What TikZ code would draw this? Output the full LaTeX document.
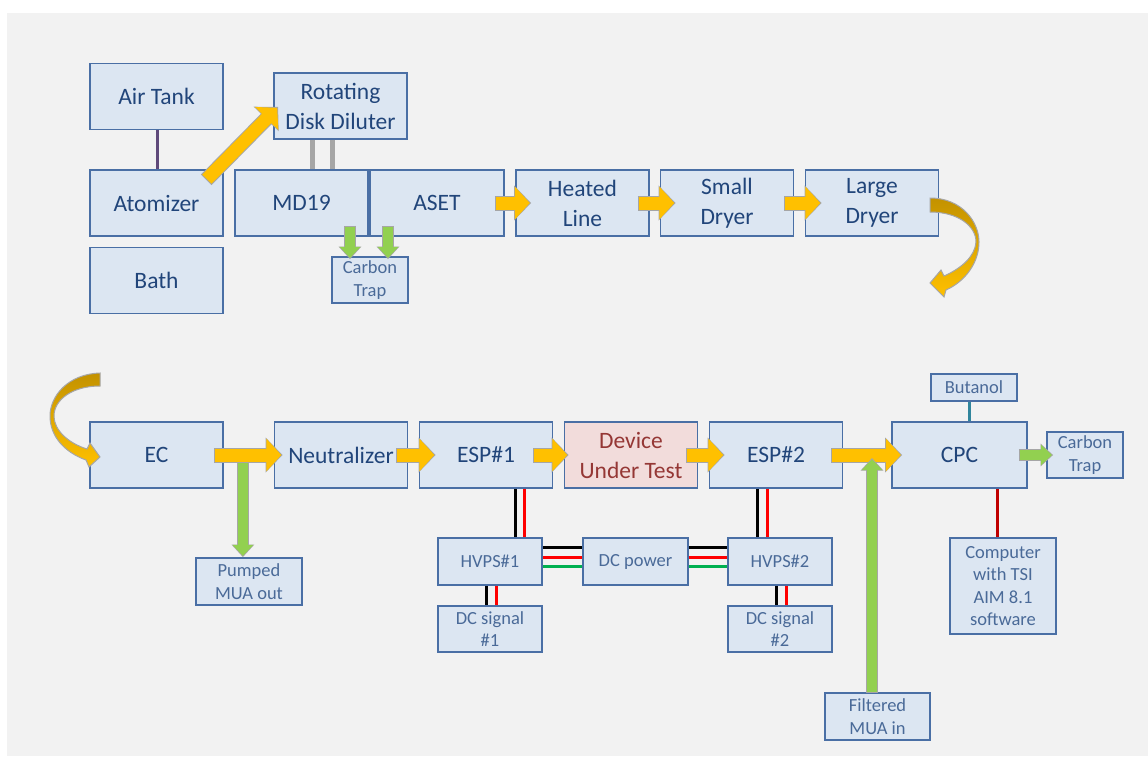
\documentclass[tikz,border=0pt]{standalone}
\usepackage{fontspec}
\setmainfont{Carlito}
\usetikzlibrary{arrows.meta,calc}
\definecolor{bggray}{HTML}{F2F2F2}
\definecolor{boxfill}{HTML}{DCE6F2}
\definecolor{boxline}{HTML}{4A6FA5}
\definecolor{maintext}{HTML}{21457A}
\definecolor{smalltext}{HTML}{4A6A98}
\definecolor{dutfill}{HTML}{F2DCDB}
\definecolor{duttext}{HTML}{953735}
\definecolor{flowyellow}{HTML}{FFC000}
\definecolor{flowgold}{HTML}{C39200}
\definecolor{flowgreen}{HTML}{92D050}
\definecolor{arrowgray}{HTML}{A6A6A6}
\definecolor{tankline}{HTML}{5F497A}
\definecolor{butline}{HTML}{31859C}
\definecolor{pcline}{HTML}{C00000}
\definecolor{wirered}{HTML}{FF0000}
\definecolor{wiregreen}{HTML}{00B050}

\tikzset{
  unit/.style={draw=boxline, line width=1.8pt, fill=boxfill, text=maintext, align=center,
    inner sep=0pt, minimum width=133pt, minimum height=66pt,
    font=\fontsize{23.5}{30}\selectfont},
  part/.style={unit, text=smalltext, minimum width=104pt, minimum height=47pt,
    font=\fontsize{18.5}{22.5}\selectfont},
  wire/.style={line width=3pt},
  flowedge/.style={draw=arrowgray, line width=15pt, shorten <=-1pt,
    -{Triangle[width=34pt,length=17pt]}},
  flowbody/.style={draw=flowyellow, line width=13pt, shorten >=1.3pt,
    -{Triangle[width=32pt,length=15pt]}},
  feededge/.style={draw=arrowgray, line width=12pt, shorten <=-1pt,
    -{Triangle[width=22pt,length=12.5pt]}},
  feedbody/.style={draw=flowgreen, line width=10pt, shorten >=1.2pt,
    -{Triangle[width=20pt,length=11pt]}},
}
\newcommand{\flow}[2]{%
  \draw[flowedge] #1 -- #2;
  \draw[flowbody] #1 -- #2;}
\newcommand{\feed}[2]{%
  \draw[feededge] #1 -- #2;
  \draw[feedbody] #1 -- #2;}

\begin{document}
\begin{tikzpicture}[x=1pt,y=-1pt]
\useasboundingbox (0,0) rectangle (1148,756);
\fill[white] (0,0) rectangle (1148,756);
\fill[bggray] (7,13) rectangle (1148,756);

% first row
\node[unit] (airtank) at (156.5,96.5) {Air Tank};
\node[unit] (atomizer) at (156.5,203) {Atomizer};
\node[unit] (bath) at (156.5,280.5) {Bath};
\node[unit] (rdd) at (340.5,106) {Rotating\\Disk Diluter};
\node[unit] (md19) at (301.5,203) {MD19};
\node[unit, minimum width=134pt] (aset) at (437,203) {ASET};
\node[unit] (heated) at (582.5,203) {Heated\\Line};
\node[unit] (smalldryer) at (727,203) {Small\\Dryer};
\node[unit] (largedryer) at (872,203) {Large\\Dryer};
\node[part, minimum width=76pt, minimum height=46pt] (trapa) at (370,280) {Carbon\\Trap};

% second row
\node[unit] (ec) at (156.5,455) {EC};
\node[unit] (neutralizer) at (341,455) {Neutralizer};
\node[unit] (espa) at (486,455) {ESP\#1};
\node[unit, fill=dutfill, text=duttext] (dut) at (631,455) {Device\\Under Test};
\node[unit] (espb) at (776,455) {ESP\#2};
\node[unit, minimum width=135pt] (cpc) at (959.5,455) {CPC};
\node[part, minimum width=86pt, minimum height=27pt] (butanol) at (974,387.5) {Butanol};
\node[part, minimum width=76pt, minimum height=46pt] (trapb) at (1085,455) {Carbon\\Trap};
\node[part, minimum width=106pt, minimum height=96pt] (computer) at (1003,586) {Computer\\with TSI\\AIM 8.1\\software};
\node[part, minimum width=106pt] (pumped) at (249,581.5) {Pumped\\MUA out};
\node[part] (hvpsa) at (490,561.5) {HVPS\#1};
\node[part, minimum width=105pt] (dcpower) at (635.5,561.5) {DC power};
\node[part] (hvpsb) at (780,561.5) {HVPS\#2};
\node[part, minimum height=46pt] (siga) at (490,629) {DC signal\\\#1};
\node[part, minimum height=46pt] (sigb) at (780,629) {DC signal\\\#2};
\node[part, minimum width=105pt] (filtered) at (877.5,716.5) {Filtered\\MUA in};

% plain links
\draw[tankline, wire] ([xshift=1pt]airtank.south) -- ([xshift=1pt]atomizer.north);
\draw[arrowgray, line width=5pt] ([xshift=-28.5pt]rdd.south) -- ([xshift=-28.5pt]rdd.south |- md19.north);
\draw[arrowgray, line width=5pt] ([xshift=-8.5pt]rdd.south) -- ([xshift=-8.5pt]rdd.south |- md19.north);
\draw[butline, wire] ([xshift=-5pt]butanol.south) -- ([xshift=-5pt]butanol.south |- cpc.north);
\draw[pcline, wire] ([xshift=-6pt]computer.north) -- ([xshift=-6pt]computer.north |- cpc.south);

% wires
\draw[black, wire] ([xshift=29pt]espa.south) -- ([xshift=29pt]espa.south |- hvpsa.north);
\draw[wirered, wire] ([xshift=38pt]espa.south) -- ([xshift=38pt]espa.south |- hvpsa.north);
\draw[black, wire] ([xshift=-19pt]espb.south) -- ([xshift=-19pt]espb.south |- hvpsb.north);
\draw[wirered, wire] ([xshift=-9pt]espb.south) -- ([xshift=-9pt]espb.south |- hvpsb.north);
\draw[black, wire] ([xshift=-4pt]hvpsa.south) -- ([xshift=-4pt]siga.north);
\draw[wirered, wire] ([xshift=6pt]hvpsa.south) -- ([xshift=6pt]siga.north);
\draw[black, wire] ([xshift=-4pt]hvpsb.south) -- ([xshift=-4pt]sigb.north);
\draw[wirered, wire] ([xshift=6pt]hvpsb.south) -- ([xshift=6pt]sigb.north);
\draw[black, wire] ([yshift=14.5pt]hvpsa.east) -- ([yshift=14.5pt]dcpower.west);
\draw[wirered, wire] ([yshift=4.5pt]hvpsa.east) -- ([yshift=4.5pt]dcpower.west);
\draw[wiregreen, wire] ([yshift=-4.5pt]hvpsa.east) -- ([yshift=-4.5pt]dcpower.west);
\draw[black, wire] ([yshift=14.5pt]dcpower.east) -- ([yshift=14.5pt]hvpsb.west);
\draw[wirered, wire] ([yshift=4.5pt]dcpower.east) -- ([yshift=4.5pt]hvpsb.west);
\draw[wiregreen, wire] ([yshift=-4.5pt]dcpower.east) -- ([yshift=-4.5pt]hvpsb.west);

% flows
\feed{($(ec.east)+(19,5)$)}{(pumped.north -| {$(ec.east)+(19,5)$})}
\flow{($(atomizer.north east)+(-17,10)$)}{($(rdd.south west)+(5,-33)$)}
\flow{([xshift=-9pt]aset.east)}{([xshift=16pt]heated.west)}
\flow{([xshift=-11pt]heated.east)}{([xshift=16pt]smalldryer.west)}
\flow{([xshift=-9pt]smalldryer.east)}{([xshift=17pt]largedryer.west)}
\flow{([xshift=-9pt]ec.east)}{([xshift=9pt]neutralizer.west)}
\flow{([xshift=-11pt]neutralizer.east)}{([xshift=17pt]espa.west)}
\flow{([xshift=-19pt]espa.east)}{([xshift=5pt]dut.west)}
\flow{([xshift=-11pt]dut.east)}{([xshift=16pt]espb.west)}
\flow{([xshift=-11pt]espb.east)}{([xshift=11pt]cpc.west)}
\feed{([xshift=-5.5pt]filtered.north)}{([xshift=-5.5pt,yshift=-3pt]filtered.north |- cpc.center)}
\feed{([xshift=-8pt]cpc.east)}{([xshift=7pt]trapb.west)}
\feed{([xshift=48.5pt,yshift=10pt]md19.south)}{([xshift=-20pt,yshift=-3pt]trapa.north)}
\feed{([xshift=-49pt,yshift=10pt]aset.south)}{([xshift=18pt,yshift=-3pt]trapa.north)}

% turn arrows between the rows
\shadedraw[top color=flowgold, bottom color=flowyellow, draw=arrowgray, line width=1pt]
  (930,198) .. controls (962,198) and (979,222) .. (979,242)
  .. controls (979,262) and (966,281) .. (946,290)
  -- (944,297) -- (930,283) -- (941,270) -- (944,276)
  .. controls (962,268) and (975,256) .. (976,242)
  .. controls (976,226) and (958,212) .. (930,212) -- cycle;
\shadedraw[top color=flowgold, bottom color=flowyellow, draw=arrowgray, line width=1pt]
  (100,373) .. controls (68,374) and (50,396) .. (50,416)
  .. controls (50,436) and (64,452) .. (86,460)
  -- (89,467) -- (100,457) -- (90,443) -- (87,449)
  .. controls (68,443) and (54,430) .. (54,416)
  .. controls (54,400) and (72,386) .. (100,386) -- cycle;
\end{tikzpicture}
\end{document}
